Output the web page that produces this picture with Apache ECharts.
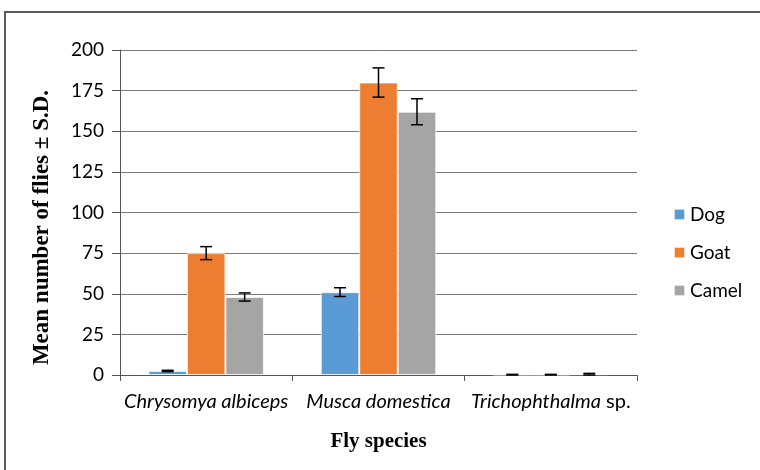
<!DOCTYPE html>
<html>
<head>
<meta charset="utf-8">
<script src="https://cdn.jsdelivr.net/npm/echarts@6/dist/echarts.min.js"></script>
<style>html,body{margin:0;padding:0;background:#fff}#c{width:760px;height:470px}</style>
</head>
<body>
<div id="c"></div>
<script>
const categories = ['Chrysomya albiceps', 'Musca domestica', 'Trichophthalma sp.'];
const seriesNames = ['Dog', 'Goat', 'Camel'];
const dogValues = [2.5, 51, 0.2];
const goatValues = [75, 180, 0.2];
const camelValues = [48, 162, 0.5];
const dogSD = [0.4, 2.7, 0.2];
const goatSD = [4, 9, 0.2];
const camelSD = [2.5, 8, 0.5];
const yTicks = [0, 25, 50, 75, 100, 125, 150, 175, 200];

const colors = ['#5B9BD5', '#ED7D31', '#A5A5A5'];
const values = [dogValues, goatValues, camelValues];
const sds = [dogSD, goatSD, camelSD];
const catGap = 0.33;

const chart = echarts.init(document.getElementById('c'), null, {renderer: 'canvas'});

const barSeries = seriesNames.map((n, i) => ({
  name: n, type: 'bar', data: values[i], barGap: '0%', barCategoryGap: '33%',
  itemStyle: {color: colors[i], borderColor: 'rgba(255,255,255,0.7)', borderWidth: 1},
  z: 2
}));

const errData = [];
seriesNames.forEach((n, si) => {
  categories.forEach((c, ci) => {
    errData.push([ci, values[si][ci], sds[si][ci], si]);
  });
});

const errSeries = {
  type: 'custom', name: 'err', silent: true, z: 5,
  data: errData,
  encode: {x: 0, y: 1},
  renderItem: function (params, api) {
    const ci = api.value(0), v = api.value(1), sd = api.value(2), si = api.value(3);
    const catW = api.size([1, 0])[0];
    const bw = catW * (1 - catGap) / 3;
    const c = api.coord([ci, v]);
    const x = c[0] + (si - 1) * bw;
    const top = api.coord([ci, v + sd])[1];
    const bot = api.coord([ci, Math.max(v - sd, 0)])[1];
    const hw = 6;
    const st = {stroke: '#000', lineWidth: 1.5};
    return {type: 'group', children: [
      {type: 'line', shape: {x1: x, y1: top, x2: x, y2: bot}, style: st},
      {type: 'line', shape: {x1: x - hw, y1: top, x2: x + hw, y2: top}, style: st},
      {type: 'line', shape: {x1: x - hw, y1: bot, x2: x + hw, y2: bot}, style: st}
    ]};
  }
};

chart.setOption({
  animation: false,
  backgroundColor: '#fff',
  graphic: [{type: 'rect', shape: {x: 5, y: 12, width: 800, height: 500},
    style: {fill: 'none', stroke: '#595959', lineWidth: 2}, silent: true, z: -10}],
  grid: {left: 120, right: 123, top: 50, bottom: 95},
  legend: {
    orient: 'vertical', left: 668, top: 200, itemWidth: 11, itemHeight: 11, itemGap: 19,
    icon: 'rect', data: seriesNames,
    textStyle: {fontFamily: 'Lato', fontSize: 19, color: '#000'}
  },
  xAxis: {
    type: 'category', data: categories,
    name: 'Fly species', nameLocation: 'middle', nameGap: 56,
    nameTextStyle: {fontFamily: 'Liberation Serif', fontWeight: 'bold', fontSize: 21, color: '#000'},
    axisLine: {lineStyle: {color: '#555', width: 1}},
    axisTick: {show: true, alignWithLabel: false, length: 6, lineStyle: {color: '#555'}},
    axisLabel: {
      interval: 0, margin: 17, color: '#000', fontFamily: 'Lato', fontSize: 20,
      formatter: function (v) {
        if (v.endsWith(' sp.')) return '{i|' + v.slice(0, -4) + '} {n|sp.}';
        return '{i|' + v + '}';
      },
      rich: {
        i: {fontFamily: 'Lato', fontStyle: 'italic', fontSize: 20, color: '#000'},
        n: {fontFamily: 'Lato', fontSize: 20, color: '#000'}
      }
    }
  },
  yAxis: {
    type: 'value', min: 0, max: 200, interval: 25,
    name: 'Mean number of flies ± S.D.', nameLocation: 'middle', nameGap: 66, nameRotate: 90,
    nameTextStyle: {fontFamily: 'Liberation Serif', fontWeight: 'bold', fontSize: 23, color: '#000', padding: [0, 30, 0, 0]},
    axisLine: {show: true, lineStyle: {color: '#555'}},
    axisTick: {show: true, length: 8, inside: false, lineStyle: {color: '#555'}},
    axisLabel: {margin: 16, color: '#000', fontFamily: 'Lato', fontSize: 19,
      formatter: function (v) { return yTicks.indexOf(v) >= 0 ? String(v) : ''; }},
    splitLine: {show: true, lineStyle: {color: '#7a7a7a', width: 1}}
  },
  series: barSeries.concat([errSeries])
});
</script>
</body>
</html>
